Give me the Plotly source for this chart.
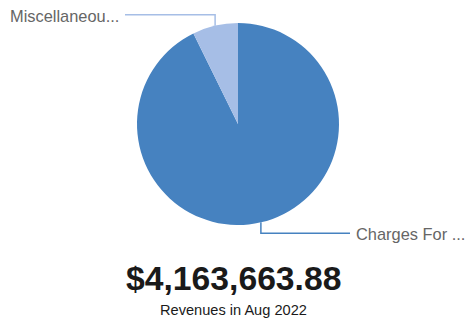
import math
import plotly.graph_objects as go

# Revenue breakdown for the month
labels = ["Charges For Services", "Miscellaneous Revenue"]
short_labels = ["Charges For ...", "Miscellaneou..."]
values = [3860663.88, 303000.00]
colors = ["#4682C0", "#A6BEE6"]
title_value = "$4,163,663.88"
subtitle = "Revenues in Aug 2022"

W, H = 465, 320
cx, cy, r = 238, 124, 101  # pie centre and radius in pixels
FONT = "Liberation Sans, Arial, sans-serif"


def px(x):
    return x / W


def py(y):
    return 1 - y / H


fig = go.Figure(go.Pie(
    labels=labels,
    values=values,
    sort=False,
    direction="clockwise",
    rotation=0,
    marker=dict(colors=colors, line=dict(width=0)),
    textinfo="none",
    hoverinfo="label+value+percent",
    domain=dict(x=[px(cx - r), px(cx + r)], y=[py(cy + r), py(cy - r)]),
))

# leader lines from each slice's mid angle out to its label
total = sum(values)
start = 0.0
shapes = []
annotations = []
for i, v in enumerate(values):
    frac = v / total
    mid = (start + frac / 2) * 2 * math.pi  # clockwise from 12 o'clock
    start += frac
    ex = cx + r * math.sin(mid)
    ey = cy - r * math.cos(mid)
    if ey < cy:  # upper slice: label to the upper-left
        ky = ey - 11
        kx_end = 125
        anchor = "right"
        tx = kx_end - 4
    else:  # lower slice: label to the lower-right
        ky = ey + 11
        kx_end = 350
        anchor = "left"
        tx = kx_end + 4
    path = f"M {px(ex)} {py(ey)} L {px(ex)} {py(ky)} L {px(kx_end)} {py(ky)}"
    shapes.append(dict(type="path", xref="paper", yref="paper", path=path,
                       line=dict(color=colors[i], width=1.5)))
    annotations.append(dict(x=px(tx), y=py(ky + 1), xref="paper", yref="paper",
                            text=short_labels[i], showarrow=False,
                            xanchor=anchor, yanchor="middle",
                            font=dict(size=16.4, color="#666666", family=FONT)))

annotations.append(dict(x=px(233.5), y=py(278), xref="paper", yref="paper",
                        text=f"<b>{title_value}</b>", showarrow=False,
                        xanchor="center", yanchor="middle",
                        font=dict(size=33.7, color="#1a1a1a", family=FONT)))
annotations.append(dict(x=px(233), y=py(310), xref="paper", yref="paper",
                        text=subtitle, showarrow=False,
                        xanchor="center", yanchor="middle",
                        font=dict(size=14.6, color="#1a1a1a", family=FONT)))

fig.update_layout(
    width=W, height=H,
    margin=dict(l=0, r=0, t=0, b=0),
    paper_bgcolor="white",
    plot_bgcolor="white",
    showlegend=False,
    shapes=shapes,
    annotations=annotations,
)

fig.write_html("out.html", config={"displayModeBar": False})
